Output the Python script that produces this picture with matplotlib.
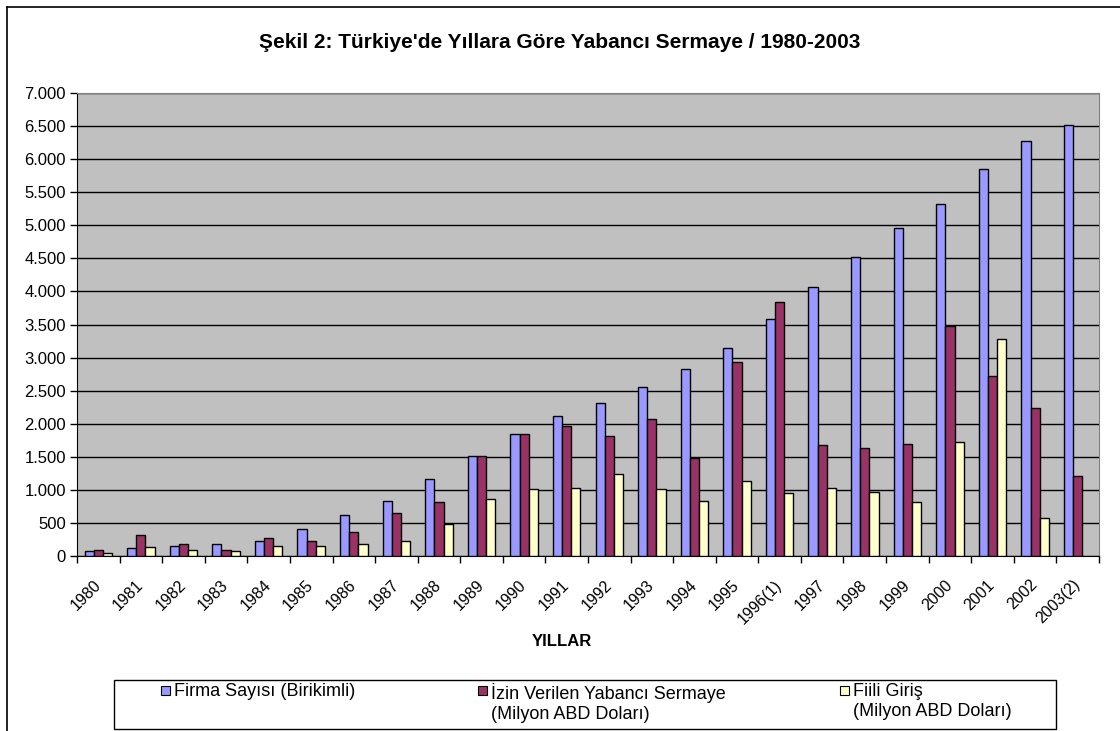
import numpy as np
import matplotlib
matplotlib.use("Agg")
import matplotlib.pyplot as plt
from matplotlib.lines import Line2D
from matplotlib.patches import Rectangle
from matplotlib.ticker import FuncFormatter, MultipleLocator, FixedLocator

plt.rcParams['font.family'] = ['Liberation Sans', 'DejaVu Sans']

# veriler
yillar = ['1980', '1981', '1982', '1983', '1984', '1985', '1986', '1987',
          '1988', '1989', '1990', '1991', '1992', '1993', '1994', '1995',
          '1996(1)', '1997', '1998', '1999', '2000', '2001', '2002', '2003(2)']
firma_sayisi = [75, 115, 155, 175, 230, 405, 615, 833, 1168, 1516, 1848, 2120,
                2316, 2548, 2820, 3152, 3581, 4071, 4520, 4955, 5323, 5853,
                6273, 6510]
izin_verilen = [95, 325, 175, 95, 270, 230, 365, 655, 811, 1516, 1848, 1964,
                1813, 2064, 1475, 2935, 3833, 1672, 1631, 1692, 3470, 2723,
                2237, 1202]
fiili_giris = [40, 135, 95, 75, 155, 155, 175, 232, 483, 856, 1007, 1032,
               1244, 1007, 836, 1128, 949, 1030, 975, 818, 1717, 3288,
               581, np.nan]

seriler = ['Firma Sayısı (Birikimli)',
           'İzin Verilen Yabancı Sermaye\n(Milyon ABD Doları)',
           'Fiili Giriş\n(Milyon ABD Doları)']
renkler = ['#9999FF', '#993366', '#FFFFCC']

W, H = 1120, 731
fig = plt.figure(figsize=(W / 100, H / 100), dpi=100)
ax = fig.add_axes([77 / W, 1 - 556 / H, 1022 / W, 463 / H])
ax.set_facecolor('#C0C0C0')

x = np.arange(len(yillar))
w = 0.215
for i, (vals, c, lab) in enumerate(zip([firma_sayisi, izin_verilen, fiili_giris], renkler, seriler)):
    ax.bar(x + (i - 1) * w, vals, width=w, color=c, edgecolor='black',
           linewidth=1, label=lab, zorder=3)

ax.set_xlim(-0.5, len(yillar) - 0.5)
ax.set_ylim(0, 7000)
ax.yaxis.set_major_locator(MultipleLocator(500))
ax.yaxis.set_major_formatter(FuncFormatter(lambda v, p: f'{int(v):,}'.replace(',', '.')))
ax.grid(axis='y', color='black', linewidth=1, zorder=1)

# kategori sınırlarında tik, ortada etiket
ax.xaxis.set_major_locator(FixedLocator(np.arange(-0.5, len(yillar) + 0.5, 1)))
ax.xaxis.set_major_formatter(FuncFormatter(lambda v, p: ''))
ax.set_xticks(x, minor=True)
ax.set_xticklabels(yillar, minor=True, rotation=45, ha='right', va='center',
                   rotation_mode='anchor', fontsize=11.5)
ax.tick_params(axis='x', which='minor', length=0, pad=19)
ax.tick_params(axis='x', which='major', length=5, direction='out', width=1)
ax.tick_params(axis='y', length=5, direction='out', width=1, labelsize=12, pad=3)

for s in ['top', 'right']:
    ax.spines[s].set_color('#808080')
for s in ['left', 'bottom']:
    ax.spines[s].set_color('black')

fig.text(0.5, 1 - 42 / H, "Şekil 2: Türkiye'de Yıllara Göre Yabancı Sermaye / 1980-2003",
         ha='center', va='center', fontsize=15, fontweight='bold')
fig.text(562 / W, 1 - 642 / H, 'YILLAR', ha='center', va='center',
         fontsize=12, fontweight='bold')

# lejant kutusu
fig.add_artist(Rectangle((114 / W, 1 - 729 / H), 942 / W, 49 / H, transform=fig.transFigure,
                         facecolor='white', edgecolor='black', linewidth=1))
leg_x = [161, 478, 840]
for lx, c, lab in zip(leg_x, renkler, seriler):
    fig.add_artist(Rectangle((lx / W, 1 - 695 / H), 9 / W, 9 / H, transform=fig.transFigure,
                             facecolor=c, edgecolor='black', linewidth=0.8))
    fig.text((lx + 13) / W, 1 - 683 / H, lab, ha='left', va='top', fontsize=13,
             linespacing=1.2)

# dış çerçeve
fig.add_artist(Line2D([7 / W, 7 / W], [0, 1 - 7 / H], transform=fig.transFigure,
                      color='black', linewidth=1.2))
fig.add_artist(Line2D([7 / W, 1], [1 - 7 / H, 1 - 7 / H], transform=fig.transFigure,
                      color='black', linewidth=1.2))

fig.savefig('out.png', dpi=100)
